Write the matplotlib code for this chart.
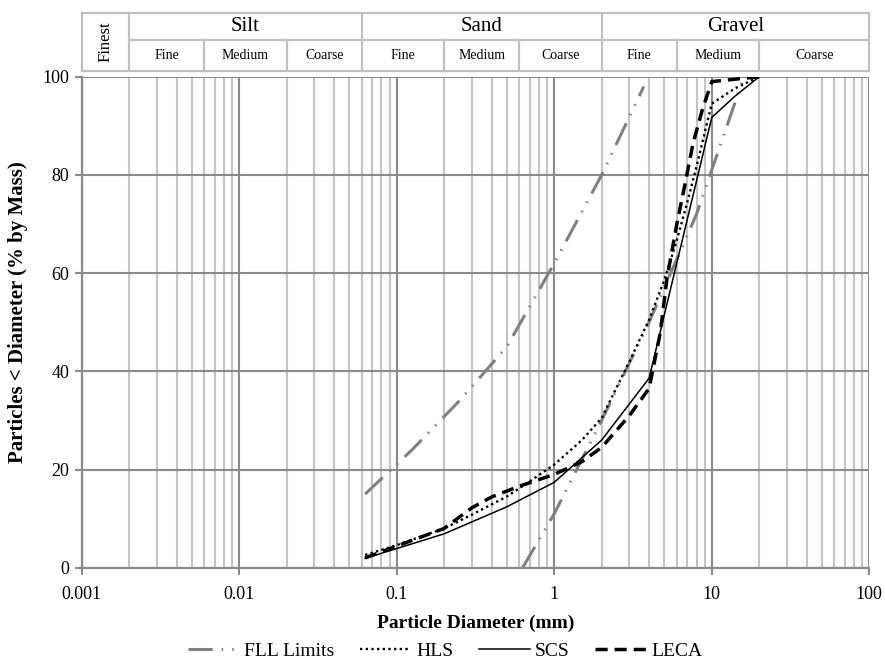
import matplotlib
matplotlib.use("Agg")
import matplotlib.pyplot as plt
from matplotlib.ticker import FixedLocator, FuncFormatter, NullFormatter

plt.rcParams["font.family"] = ["Liberation Serif", "DejaVu Serif"]

# ---- grading data (particle diameter in mm, % passing by mass) ----
fll_upper_d = [0.063, 0.125, 0.25, 0.5, 1.0, 2.0, 3.7]
fll_upper_p = [15, 24, 34, 45, 62, 80, 98]
fll_lower_d = [0.63, 1.0, 2.0, 4.0, 8.0, 16.0]
fll_lower_p = [0, 11, 30, 50, 72, 100]

hls_d = [0.063, 0.1, 0.2, 0.3, 0.5, 0.7, 1.0, 1.5, 2.0, 3.0, 4.0, 5.0, 6.0, 7.0, 8.0, 9.0, 10.0, 14.0, 20.0]
hls_p = [2.6, 4.6, 8.0, 10.8, 14.5, 17.6, 21.0, 26.0, 30.5, 42.0, 50.5, 58.6, 66.7, 74.5, 81.7, 88.5, 94.5, 97.6, 100]

scs_d = [0.063, 0.2, 0.5, 1.0, 2.0, 4.0, 10.0, 14.0, 20.0]
scs_p = [1.9, 6.9, 12.4, 17.4, 26.0, 38.6, 91.7, 96.0, 100]

leca_d = [0.063, 0.2, 0.3, 0.4, 0.6, 1.0, 1.5, 2.0, 3.0, 4.0, 4.7, 5.2, 6.0, 6.75, 7.6, 8.7, 10.0, 20.0]
leca_p = [2.0, 8.0, 12.2, 14.4, 16.6, 19.0, 21.6, 24.5, 31.0, 36.5, 47.7, 59.0, 70.0, 78.0, 86.4, 93.2, 99.0, 100]

# classification bands for the header table
band_edges = [0.001, 0.002, 0.006, 0.02, 0.06, 0.2, 0.6, 2, 6, 20, 100]
main_groups = [("Silt", 0.002, 0.06), ("Sand", 0.06, 2), ("Gravel", 2, 100)]
sub_names = ["Fine", "Medium", "Coarse"]

x_ticks = [0.001, 0.01, 0.1, 1, 10, 100]
y_ticks = [0, 20, 40, 60, 80, 100]

W, H = 885, 666
fig = plt.figure(figsize=(W / 100, H / 100), dpi=100)

x0, x1 = 81.7, 869.3
y_top, y_bot = 76.7, 567.7
ax = fig.add_axes([x0 / W, 1 - y_bot / H, (x1 - x0) / W, (y_bot - y_top) / H])
ax.set_xscale("log")
ax.set_xlim(0.001, 100)
ax.set_ylim(0, 100)

minor = [m * 10.0 ** e for e in range(-3, 2) for m in range(2, 10)]
ax.xaxis.set_major_locator(FixedLocator(x_ticks))
ax.xaxis.set_minor_locator(FixedLocator(minor))
ax.xaxis.set_major_formatter(FuncFormatter(lambda v, p: f"{v:g}"))
ax.xaxis.set_minor_formatter(NullFormatter())
ax.yaxis.set_major_locator(FixedLocator(y_ticks))

grid_dark = "#8a8a8a"
grid_light = "#c4c4c4"
ax.set_axisbelow(True)
ax.grid(which="minor", axis="x", color=grid_light, lw=1.5)
ax.grid(which="major", color=grid_dark, lw=1.5)
for s in ("top", "right"):
    ax.spines[s].set_visible(False)
for s in ("left", "bottom"):
    ax.spines[s].set_color(grid_dark)
    ax.spines[s].set_linewidth(1.6)
ax.tick_params(which="major", direction="out", length=5, width=1.5,
               color=grid_dark, labelsize=13)
ax.tick_params(axis="x", which="major", pad=8)
ax.tick_params(axis="y", which="major", pad=4)
ax.tick_params(which="minor", length=0)

# curves
fll_style = dict(color="#808080", lw=2.2, dashes=(7.9, 2.95, 0.5, 2.95, 0.5, 2.95),
                 solid_capstyle="butt", dash_capstyle="butt")
l_fll, = ax.plot(fll_upper_d, fll_upper_p, **fll_style)
ax.plot(fll_lower_d, fll_lower_p, **fll_style)
l_hls, = ax.plot(hls_d, hls_p, color="black", lw=1.7, linestyle=(0, (1, 1.4)))
l_scs, = ax.plot(scs_d, scs_p, color="black", lw=1.1)
l_leca, = ax.plot(leca_d, leca_p, color="black", lw=2.5, dashes=(3.5, 2.0),
                  dash_capstyle="butt")

# axis titles
fig.text((x0 + x1) / 2 / W, 1 - 623 / H, "Particle Diameter (mm)",
         ha="center", va="center", fontsize=14, fontweight="bold")
fig.text(18 / W, 1 - 312 / H, "Particles < Diameter (% by Mass)",
         ha="center", va="center", rotation=90, fontsize=15, fontweight="bold")

# legend
fig.legend([l_fll, l_hls, l_scs, l_leca], ["FLL Limits", "HLS", "SCS", "LECA"],
           loc="center", bbox_to_anchor=(0.503, 1 - 651 / H), ncol=4, frameon=False,
           fontsize=14, handlelength=2.65, handletextpad=0.25, columnspacing=1.3)

# header table with soil classes
h_top, h_bot, h_mid = 12.7, 70.7, 40.0
hd = fig.add_axes([x0 / W, 1 - h_bot / H, (x1 - x0) / W, (h_bot - h_top) / H])
hd.set_xscale("log")
hd.set_xlim(0.001, 100)
hd.set_ylim(0, 1)
hd.axis("off")
mid = (h_bot - h_mid) / (h_bot - h_top)
border = dict(color="#c0c0c0", lw=1.6, clip_on=False, solid_capstyle="projecting")
hd.plot([0.001, 100], [1, 1], **border)
hd.plot([0.001, 100], [0, 0], **border)
hd.plot([0.002, 100], [mid, mid], **border)
for e in band_edges:
    full = e in (0.001, 0.002, 0.06, 2, 100)
    hd.plot([e, e], [0, 1 if full else mid], **border)

hd.text((0.001 * 0.002) ** 0.5, 0.5, "Finest", rotation=90, ha="center",
        va="center", fontsize=12)
for name, lo, hi in main_groups:
    hd.text((lo * hi) ** 0.5, (mid + 1) / 2, name, ha="center", va="center", fontsize=15)
for i in range(1, len(band_edges) - 1):
    lo, hi = band_edges[i], band_edges[i + 1]
    hd.text((lo * hi) ** 0.5, mid / 2, sub_names[(i - 1) % 3], ha="center",
            va="center", fontsize=10)

fig.savefig("out.png", dpi=100)
